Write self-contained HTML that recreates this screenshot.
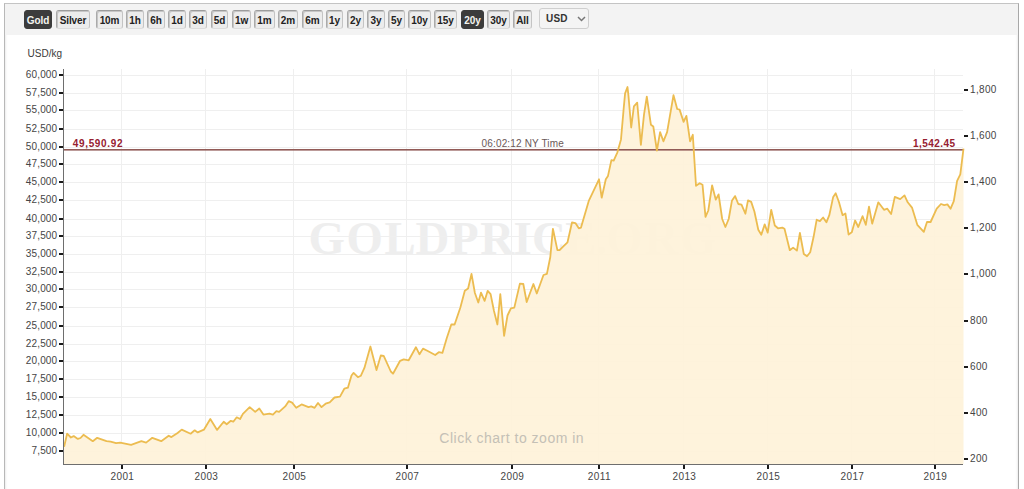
<!DOCTYPE html>
<html><head><meta charset="utf-8"><style>
html,body{margin:0;padding:0;background:#fff;width:1024px;height:489px;overflow:hidden;font-family:"Liberation Sans",sans-serif;}
#frame{position:absolute;left:4px;top:3px;width:1013px;height:500px;border:1px solid #c4c4c4;border-left-color:#b8b8b8;border-right-color:#a8a8a8;border-bottom:none;background:#fff;box-shadow:inset 2px 0 2px -1px #ececec, inset -2px 0 2px -1px #ececec;}
#bar{position:absolute;left:5px;top:4px;width:1013px;height:31px;background:#f3f3f3;}
.btn{position:absolute;top:10px;height:19px;box-sizing:border-box;border:1px solid #c4c4c4;border-top-color:#9c9c9c;border-left-color:#aaaaaa;border-bottom-color:#dcdcdc;border-radius:3px;background:#ececec;box-shadow:inset 1px 1px 0 #c6c6c6;font-weight:bold;font-size:10px;letter-spacing:-0.1px;color:#222;text-align:center;line-height:20px;}
.btn.act{background:#3c3c3c;border:1px solid #3c3c3c;box-shadow:none;color:#f4f4f0;line-height:19px;}
#sel{position:absolute;left:539px;top:8px;width:50px;height:21px;box-sizing:border-box;border:1px solid #cfcfcf;border-radius:3px;background:#f4f4f4;font-size:10.5px;font-weight:bold;color:#333;}
svg{font-family:"Liberation Sans",sans-serif;}
</style></head><body>
<div id="frame"></div>
<div id="bar"></div>
<div class="btn act" style="left:24px;width:28px">Gold</div>
<div class="btn" style="left:56px;width:34px">Silver</div>
<div class="btn" style="left:96px;width:27px">10m</div>
<div class="btn" style="left:126px;width:18px">1h</div>
<div class="btn" style="left:147px;width:18px">6h</div>
<div class="btn" style="left:168px;width:18px">1d</div>
<div class="btn" style="left:189px;width:18px">3d</div>
<div class="btn" style="left:211px;width:17px">5d</div>
<div class="btn" style="left:232px;width:19px">1w</div>
<div class="btn" style="left:254px;width:21px">1m</div>
<div class="btn" style="left:278px;width:20px">2m</div>
<div class="btn" style="left:302px;width:21px">6m</div>
<div class="btn" style="left:326px;width:17px">1y</div>
<div class="btn" style="left:347px;width:17px">2y</div>
<div class="btn" style="left:367px;width:18px">3y</div>
<div class="btn" style="left:388px;width:17px">5y</div>
<div class="btn" style="left:408px;width:23px">10y</div>
<div class="btn" style="left:434px;width:23px">15y</div>
<div class="btn act" style="left:461px;width:23px">20y</div>
<div class="btn" style="left:487px;width:23px">30y</div>
<div class="btn" style="left:513px;width:19px">All</div>

<div id="sel"><span style="position:absolute;left:6px;top:4px;letter-spacing:0.2px;font-size:10px;line-height:12px">USD</span><svg style="position:absolute;left:37px;top:7px" width="9" height="6"><path d="M1 1 L4.5 4.5 L8 1" fill="none" stroke="#777" stroke-width="1.5"/></svg></div>
<svg width="1024" height="489" style="position:absolute;left:0;top:0">
<text x="27.6" y="56.8" font-size="10" fill="#3a3a3a">USD/kg</text>
<text x="308.5 346.4 384.6 415.4 449.9 480.3 513.6 532.1 565.2 595.4 606.3 644.5 680.1" y="254" style="font-family:'Liberation Serif'" font-weight="bold" font-size="46.8" fill="#eeeeee">GOLDPRICE.ORG</text>
<g fill="#efefef"><rect x="64" y="451" width="899" height="1"/><rect x="64" y="433" width="899" height="1"/><rect x="64" y="415" width="899" height="1"/><rect x="64" y="397" width="899" height="1"/><rect x="64" y="379" width="899" height="1"/><rect x="64" y="361" width="899" height="1"/><rect x="64" y="344" width="899" height="1"/><rect x="64" y="326" width="899" height="1"/><rect x="64" y="307" width="899" height="1"/><rect x="64" y="289" width="899" height="1"/><rect x="64" y="272" width="899" height="1"/><rect x="64" y="254" width="899" height="1"/><rect x="64" y="236" width="899" height="1"/><rect x="64" y="219" width="899" height="1"/><rect x="64" y="200" width="899" height="1"/><rect x="64" y="182" width="899" height="1"/><rect x="64" y="164" width="899" height="1"/><rect x="64" y="147" width="899" height="1"/><rect x="64" y="129" width="899" height="1"/><rect x="64" y="110" width="899" height="1"/><rect x="64" y="93" width="899" height="1"/><rect x="64" y="75" width="899" height="1"/><rect x="121" y="69" width="1" height="395"/><rect x="205" y="69" width="1" height="395"/><rect x="293" y="69" width="1" height="395"/><rect x="406" y="69" width="1" height="395"/><rect x="511" y="69" width="1" height="395"/><rect x="598" y="69" width="1" height="395"/><rect x="683" y="69" width="1" height="395"/><rect x="767" y="69" width="1" height="395"/><rect x="851" y="69" width="1" height="395"/><rect x="934" y="69" width="1" height="395"/></g>
<path d="M64.1 446.7 L67.1 433.7 L70.9 437.5 L73.7 436.1 L77.8 438.9 L80.5 438.0 L83.5 434.8 L92.8 441.2 L97.2 437.8 L106.5 441.2 L110.6 441.6 L116.1 443.2 L120.2 442.6 L131.1 444.9 L141.4 441.2 L146.1 442.6 L152.3 437.8 L161.2 441.2 L168.7 435.7 L171.4 437.1 L177.6 433.0 L181.7 429.6 L190.6 433.7 L194.7 430.3 L197.7 432.4 L203.9 429.7 L210.3 419.0 L217.1 429.9 L223.7 421.7 L226.7 424.2 L230.8 420.8 L233.3 421.7 L236.7 417.3 L240.1 419.0 L242.9 413.9 L249.7 407.1 L255.2 411.9 L259.3 408.5 L263.4 414.6 L269.5 413.7 L272.9 414.6 L276.4 411.2 L279.1 411.9 L285.2 406.4 L288.7 401.2 L292.1 402.6 L296.2 407.8 L301.6 404.4 L308.5 407.1 L311.2 406.4 L314.6 407.8 L318.0 403.0 L321.5 407.1 L325.6 403.7 L329.7 402.3 L334.5 397.5 L340.0 396.6 L344.3 388.7 L347.9 387.7 L351.5 375.5 L353.6 372.9 L357.9 377.2 L360.8 375.8 L364.4 367.9 L370.4 346.5 L376.5 370.1 L380.8 355.5 L383.7 355.8 L390.8 371.5 L393.0 373.7 L400.1 360.8 L403.7 359.3 L408.7 360.3 L415.9 347.2 L419.5 354.3 L423.0 348.6 L427.3 350.8 L435.2 355.0 L438.8 352.2 L442.4 352.9 L446.8 338.0 L451.3 324.5 L454.6 324.5 L460.3 307.7 L464.8 290.8 L468.1 288.5 L471.5 273.9 L474.9 293.0 L478.3 302.5 L481.0 292.6 L484.6 300.9 L487.7 290.8 L490.6 294.1 L494.0 311.0 L497.4 324.5 L500.3 294.1 L504.1 335.8 L507.5 315.5 L510.9 308.3 L514.3 307.6 L519.9 283.6 L523.3 284.0 L526.7 302.0 L533.4 284.0 L536.8 293.5 L543.5 275.0 L546.9 273.9 L550.3 257.0 L552.9 228.8 L557.4 250.1 L559.6 250.1 L564.1 245.6 L567.5 242.3 L572.0 222.5 L575.4 223.1 L578.8 228.3 L581.0 227.6 L588.9 200.6 L599.0 179.3 L601.7 197.7 L605.8 179.3 L608.0 175.9 L611.4 160.1 L613.7 160.6 L617.4 152.3 L621.0 139.4 L623.8 107.2 L625.1 93.4 L627.5 87.0 L628.4 95.2 L631.2 127.5 L633.9 106.3 L637.2 102.6 L640.9 144.9 L644.0 114.6 L646.8 96.7 L650.9 124.7 L653.3 126.5 L656.9 150.5 L660.1 132.1 L663.4 141.3 L667.1 132.1 L673.5 95.2 L677.2 109.0 L679.6 109.6 L683.6 121.9 L686.4 115.9 L690.1 141.3 L692.8 134.8 L696.0 185.8 L699.7 183.2 L702.5 184.7 L705.5 216.9 L708.3 210.5 L712.1 185.3 L715.8 199.7 L718.6 194.4 L722.2 219.0 L725.4 227.0 L728.7 219.0 L731.9 200.8 L735.1 196.1 L738.3 204.0 L741.5 204.7 L745.4 213.7 L748.0 200.4 L751.2 201.9 L754.4 211.5 L758.3 229.8 L761.3 234.7 L764.7 224.4 L767.7 232.6 L771.2 209.8 L774.8 225.5 L778.0 228.3 L782.3 227.6 L784.5 228.7 L789.8 250.2 L793.1 247.6 L796.9 250.6 L799.9 233.0 L803.8 254.0 L807.0 256.2 L810.2 252.3 L813.5 237.3 L816.7 219.7 L819.9 221.2 L823.1 217.5 L826.4 222.3 L829.3 215.2 L833.2 196.9 L835.7 193.3 L839.0 202.3 L842.6 215.2 L845.4 213.4 L848.6 234.5 L851.8 232.3 L855.1 220.5 L858.3 227.0 L862.6 216.2 L865.8 224.8 L869.0 206.6 L872.2 223.7 L878.3 202.3 L884.0 209.8 L887.3 208.7 L891.1 214.1 L894.8 196.9 L900.2 199.1 L904.5 195.4 L907.7 202.3 L912.0 207.6 L917.3 224.8 L923.8 231.9 L927.0 222.0 L930.6 222.0 L936.7 208.7 L941.0 204.0 L944.2 205.1 L947.4 204.4 L950.6 208.7 L953.8 201.2 L957.1 180.8 L960.3 174.4 L963.5 148.6 L963.5 464 L64 464 Z" fill="#fef2d9" fill-opacity="0.92"/>
<text x="439.3" y="442.6" font-size="14" letter-spacing="0.5" fill="#c4c0b6">Click chart to zoom in</text>
<rect x="64" y="149" width="899" height="1.6" fill="#915a56"/>
<text x="72.8" y="146.9" font-size="10" letter-spacing="0.65" font-weight="bold" fill="#962030">49,590.92</text>
<text x="481.6" y="146.9" font-size="10" letter-spacing="0.15" fill="#6b5858">06:02:12 NY Time</text>
<text x="913" y="147" font-size="10" letter-spacing="0.45" font-weight="bold" fill="#962030">1,542.45</text>
<path d="M64.1 446.7 L67.1 433.7 L70.9 437.5 L73.7 436.1 L77.8 438.9 L80.5 438.0 L83.5 434.8 L92.8 441.2 L97.2 437.8 L106.5 441.2 L110.6 441.6 L116.1 443.2 L120.2 442.6 L131.1 444.9 L141.4 441.2 L146.1 442.6 L152.3 437.8 L161.2 441.2 L168.7 435.7 L171.4 437.1 L177.6 433.0 L181.7 429.6 L190.6 433.7 L194.7 430.3 L197.7 432.4 L203.9 429.7 L210.3 419.0 L217.1 429.9 L223.7 421.7 L226.7 424.2 L230.8 420.8 L233.3 421.7 L236.7 417.3 L240.1 419.0 L242.9 413.9 L249.7 407.1 L255.2 411.9 L259.3 408.5 L263.4 414.6 L269.5 413.7 L272.9 414.6 L276.4 411.2 L279.1 411.9 L285.2 406.4 L288.7 401.2 L292.1 402.6 L296.2 407.8 L301.6 404.4 L308.5 407.1 L311.2 406.4 L314.6 407.8 L318.0 403.0 L321.5 407.1 L325.6 403.7 L329.7 402.3 L334.5 397.5 L340.0 396.6 L344.3 388.7 L347.9 387.7 L351.5 375.5 L353.6 372.9 L357.9 377.2 L360.8 375.8 L364.4 367.9 L370.4 346.5 L376.5 370.1 L380.8 355.5 L383.7 355.8 L390.8 371.5 L393.0 373.7 L400.1 360.8 L403.7 359.3 L408.7 360.3 L415.9 347.2 L419.5 354.3 L423.0 348.6 L427.3 350.8 L435.2 355.0 L438.8 352.2 L442.4 352.9 L446.8 338.0 L451.3 324.5 L454.6 324.5 L460.3 307.7 L464.8 290.8 L468.1 288.5 L471.5 273.9 L474.9 293.0 L478.3 302.5 L481.0 292.6 L484.6 300.9 L487.7 290.8 L490.6 294.1 L494.0 311.0 L497.4 324.5 L500.3 294.1 L504.1 335.8 L507.5 315.5 L510.9 308.3 L514.3 307.6 L519.9 283.6 L523.3 284.0 L526.7 302.0 L533.4 284.0 L536.8 293.5 L543.5 275.0 L546.9 273.9 L550.3 257.0 L552.9 228.8 L557.4 250.1 L559.6 250.1 L564.1 245.6 L567.5 242.3 L572.0 222.5 L575.4 223.1 L578.8 228.3 L581.0 227.6 L588.9 200.6 L599.0 179.3 L601.7 197.7 L605.8 179.3 L608.0 175.9 L611.4 160.1 L613.7 160.6 L617.4 152.3 L621.0 139.4 L623.8 107.2 L625.1 93.4 L627.5 87.0 L628.4 95.2 L631.2 127.5 L633.9 106.3 L637.2 102.6 L640.9 144.9 L644.0 114.6 L646.8 96.7 L650.9 124.7 L653.3 126.5 L656.9 150.5 L660.1 132.1 L663.4 141.3 L667.1 132.1 L673.5 95.2 L677.2 109.0 L679.6 109.6 L683.6 121.9 L686.4 115.9 L690.1 141.3 L692.8 134.8 L696.0 185.8 L699.7 183.2 L702.5 184.7 L705.5 216.9 L708.3 210.5 L712.1 185.3 L715.8 199.7 L718.6 194.4 L722.2 219.0 L725.4 227.0 L728.7 219.0 L731.9 200.8 L735.1 196.1 L738.3 204.0 L741.5 204.7 L745.4 213.7 L748.0 200.4 L751.2 201.9 L754.4 211.5 L758.3 229.8 L761.3 234.7 L764.7 224.4 L767.7 232.6 L771.2 209.8 L774.8 225.5 L778.0 228.3 L782.3 227.6 L784.5 228.7 L789.8 250.2 L793.1 247.6 L796.9 250.6 L799.9 233.0 L803.8 254.0 L807.0 256.2 L810.2 252.3 L813.5 237.3 L816.7 219.7 L819.9 221.2 L823.1 217.5 L826.4 222.3 L829.3 215.2 L833.2 196.9 L835.7 193.3 L839.0 202.3 L842.6 215.2 L845.4 213.4 L848.6 234.5 L851.8 232.3 L855.1 220.5 L858.3 227.0 L862.6 216.2 L865.8 224.8 L869.0 206.6 L872.2 223.7 L878.3 202.3 L884.0 209.8 L887.3 208.7 L891.1 214.1 L894.8 196.9 L900.2 199.1 L904.5 195.4 L907.7 202.3 L912.0 207.6 L917.3 224.8 L923.8 231.9 L927.0 222.0 L930.6 222.0 L936.7 208.7 L941.0 204.0 L944.2 205.1 L947.4 204.4 L950.6 208.7 L953.8 201.2 L957.1 180.8 L960.3 174.4 L963.5 148.6" fill="none" stroke="#ecbc50" stroke-width="1.8" stroke-linejoin="round"/>
<rect x="63" y="69" width="1" height="396" fill="#6e6e6e"/>
<rect x="63" y="464" width="900" height="1" fill="#6e6e6e"/>
<g fill="#1a1a1a"><rect x="59" y="450" width="4" height="2"/><rect x="59" y="432" width="4" height="2"/><rect x="59" y="414" width="4" height="2"/><rect x="59" y="396" width="4" height="2"/><rect x="59" y="378" width="4" height="2"/><rect x="59" y="360" width="4" height="2"/><rect x="59" y="343" width="4" height="2"/><rect x="59" y="325" width="4" height="2"/><rect x="59" y="306" width="4" height="2"/><rect x="59" y="288" width="4" height="2"/><rect x="59" y="271" width="4" height="2"/><rect x="59" y="253" width="4" height="2"/><rect x="59" y="235" width="4" height="2"/><rect x="59" y="218" width="4" height="2"/><rect x="59" y="199" width="4" height="2"/><rect x="59" y="181" width="4" height="2"/><rect x="59" y="163" width="4" height="2"/><rect x="59" y="146" width="4" height="2"/><rect x="59" y="128" width="4" height="2"/><rect x="59" y="109" width="4" height="2"/><rect x="59" y="92" width="4" height="2"/><rect x="59" y="74" width="4" height="2"/><rect x="121" y="465" width="2" height="4"/><rect x="205" y="465" width="2" height="4"/><rect x="293" y="465" width="2" height="4"/><rect x="406" y="465" width="2" height="4"/><rect x="511" y="465" width="2" height="4"/><rect x="598" y="465" width="2" height="4"/><rect x="683" y="465" width="2" height="4"/><rect x="767" y="465" width="2" height="4"/><rect x="851" y="465" width="2" height="4"/><rect x="934" y="465" width="2" height="4"/><rect x="964" y="458" width="4" height="2"/><rect x="964" y="412" width="4" height="2"/><rect x="964" y="366" width="4" height="2"/><rect x="964" y="320" width="4" height="2"/><rect x="964" y="273" width="4" height="2"/><rect x="964" y="227" width="4" height="2"/><rect x="964" y="181" width="4" height="2"/><rect x="964" y="135" width="4" height="2"/><rect x="964" y="89" width="4" height="2"/></g>
<g font-size="10" fill="#454545"><text x="57.3" y="454" text-anchor="end" letter-spacing="0.15">7,500</text><text x="57.3" y="436" text-anchor="end" letter-spacing="0.15">10,000</text><text x="57.3" y="418" text-anchor="end" letter-spacing="0.15">12,500</text><text x="57.3" y="400" text-anchor="end" letter-spacing="0.15">15,000</text><text x="57.3" y="382" text-anchor="end" letter-spacing="0.15">17,500</text><text x="57.3" y="364" text-anchor="end" letter-spacing="0.15">20,000</text><text x="57.3" y="347" text-anchor="end" letter-spacing="0.15">22,500</text><text x="57.3" y="329" text-anchor="end" letter-spacing="0.15">25,000</text><text x="57.3" y="310" text-anchor="end" letter-spacing="0.15">27,500</text><text x="57.3" y="292" text-anchor="end" letter-spacing="0.15">30,000</text><text x="57.3" y="275" text-anchor="end" letter-spacing="0.15">32,500</text><text x="57.3" y="257" text-anchor="end" letter-spacing="0.15">35,000</text><text x="57.3" y="239" text-anchor="end" letter-spacing="0.15">37,500</text><text x="57.3" y="222" text-anchor="end" letter-spacing="0.15">40,000</text><text x="57.3" y="203" text-anchor="end" letter-spacing="0.15">42,500</text><text x="57.3" y="185" text-anchor="end" letter-spacing="0.15">45,000</text><text x="57.3" y="167" text-anchor="end" letter-spacing="0.15">47,500</text><text x="57.3" y="150" text-anchor="end" letter-spacing="0.15">50,000</text><text x="57.3" y="132" text-anchor="end" letter-spacing="0.15">52,500</text><text x="57.3" y="113" text-anchor="end" letter-spacing="0.15">55,000</text><text x="57.3" y="96" text-anchor="end" letter-spacing="0.15">57,500</text><text x="57.3" y="78" text-anchor="end" letter-spacing="0.15">60,000</text><text x="122.4" y="479.6" text-anchor="middle" letter-spacing="0.4">2001</text><text x="206.4" y="479.6" text-anchor="middle" letter-spacing="0.4">2003</text><text x="294.4" y="479.6" text-anchor="middle" letter-spacing="0.4">2005</text><text x="407.4" y="479.6" text-anchor="middle" letter-spacing="0.4">2007</text><text x="512.4" y="479.6" text-anchor="middle" letter-spacing="0.4">2009</text><text x="599.4" y="479.6" text-anchor="middle" letter-spacing="0.4">2011</text><text x="684.4" y="479.6" text-anchor="middle" letter-spacing="0.4">2013</text><text x="768.4" y="479.6" text-anchor="middle" letter-spacing="0.4">2015</text><text x="852.4" y="479.6" text-anchor="middle" letter-spacing="0.4">2017</text><text x="935.4" y="479.6" text-anchor="middle" letter-spacing="0.4">2019</text><text x="970" y="461.8" letter-spacing="0.35">200</text><text x="970" y="415.8" letter-spacing="0.35">400</text><text x="970" y="369.8" letter-spacing="0.35">600</text><text x="970" y="323.8" letter-spacing="0.35">800</text><text x="970" y="276.8" letter-spacing="0.35">1,000</text><text x="970" y="230.8" letter-spacing="0.35">1,200</text><text x="970" y="184.8" letter-spacing="0.35">1,400</text><text x="970" y="138.8" letter-spacing="0.35">1,600</text><text x="970" y="92.8" letter-spacing="0.35">1,800</text></g>
</svg>
</body></html>
